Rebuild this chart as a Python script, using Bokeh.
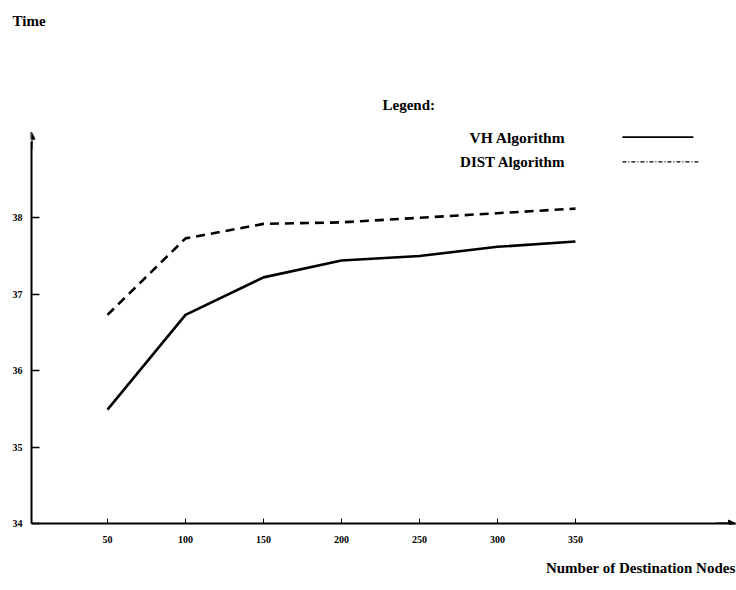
from bokeh.plotting import figure
from bokeh.models import Range1d, FixedTicker, Label, Arrow, NormalHead, Title
from bokeh.embed import file_html
from bokeh.resources import INLINE

nodes = [50, 100, 150, 200, 250, 300, 350]
vh_time = [35.49, 36.73, 37.22, 37.44, 37.50, 37.62, 37.69]
dist_time = [36.73, 37.73, 37.92, 37.94, 38.00, 38.06, 38.12]
y_ticks = [34, 35, 36, 37, 38]

FONT = "Liberation Serif"

p = figure(width=736, height=590, output_backend="svg", toolbar_location=None,
           x_range=Range1d(1.28, 452.6), y_range=Range1d(34, 40.293),
           min_border_left=31, min_border_right=1, min_border_top=40, min_border_bottom=67)
p.outline_line_color = None
p.xgrid.visible = False
p.ygrid.visible = False
p.background_fill_color = "white"
p.border_fill_color = "white"

for ax in (p.xaxis[0], p.yaxis[0]):
    ax.axis_line_width = 2
    ax.axis_line_color = "black"
    ax.major_tick_line_color = "black"
    ax.minor_tick_line_color = None
    ax.major_label_text_font = FONT
    ax.major_label_text_font_style = "bold"
    ax.major_label_text_font_size = "10px"
    ax.major_label_text_color = "black"
    ax.major_tick_out = 0

p.yaxis[0].ticker = FixedTicker(ticks=y_ticks)
p.yaxis[0].bounds = (34, 39.0)
p.yaxis[0].major_tick_in = 8
p.yaxis[0].major_tick_line_width = 1.5
p.yaxis[0].major_label_standoff = 9

p.xaxis[0].ticker = FixedTicker(ticks=nodes)
p.xaxis[0].major_tick_in = 5
p.xaxis[0].major_tick_line_width = 1
p.xaxis[0].major_label_standoff = 12

# axis arrow heads
p.add_layout(Arrow(end=NormalHead(size=7, fill_color="black", line_color="black"),
                   x_start=1.28, y_start=38.9, x_end=1.28, y_end=39.12, line_width=2))
p.add_layout(Arrow(end=NormalHead(size=7, fill_color="black", line_color="black"),
                   x_start=440, y_start=34, x_end=452.6, y_end=34, line_width=2))

# data lines
p.line(nodes, vh_time, line_color="black", line_width=2.6)
p.line(nodes, dist_time, line_color="black", line_width=2.6, line_dash="9 6")

# legend (drawn by hand: text left, sample right)
def lab(x, y, text, size="15px", align="left"):
    p.add_layout(Label(x=x, y=y, text=text, text_font=FONT, text_font_style="bold",
                       text_font_size=size, text_color="black", text_align=align,
                       text_baseline="middle"))

lab(226.3, 39.472, "Legend:")
lab(343.6, 39.055, "VH Algorithm", align="right", size="15.5px")
lab(343.6, 38.730, "DIST Algorithm", align="right")
p.line([380.1, 425.6], [39.055, 39.055], line_color="black", line_width=1.6)
p.line([380.1, 430.1], [38.730, 38.730], line_color="black", line_width=1.3, line_dash="4 2 1 2")

p.add_layout(Title(text="Time", align="left", offset=-19, standoff=24, vertical_align="top",
                   text_font=FONT, text_font_style="bold", text_font_size="15px",
                   text_color="black"), "above")
p.add_layout(Title(text="Number of Destination Nodes", align="right", standoff=24,
                   text_font=FONT, text_font_style="bold", text_font_size="15px",
                   text_color="black"), "below")

open("out.html", "w").write(file_html(p, INLINE))
